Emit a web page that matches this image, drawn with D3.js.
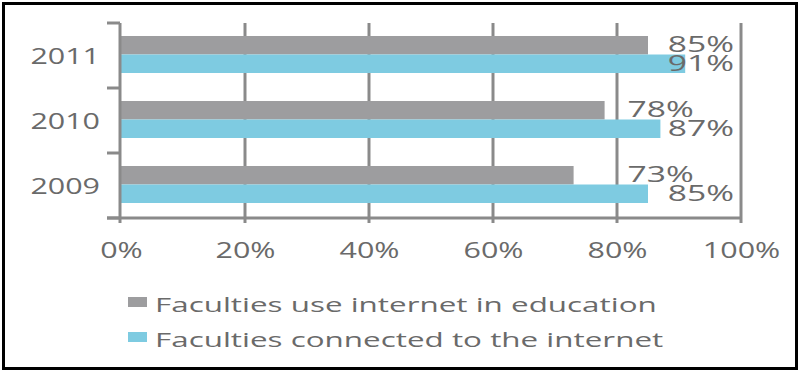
<!DOCTYPE html>
<html>
<head>
<meta charset="utf-8">
<script src="https://cdn.jsdelivr.net/npm/d3@7"></script>
<style>
  html, body { margin: 0; padding: 0; background: #fff; }
  svg { display: block; }
  text { font-family: "Open Sans", sans-serif; fill: #6a6a6a; }
</style>
</head>
<body>
<script>
// chart data
let years = ["2011", "2010", "2009"];
let seriesNames = ["Faculties use internet in education", "Faculties connected to the internet"];
let useInEducation = [0.85, 0.78, 0.73];
let connected = [0.91, 0.87, 0.85];
let xTicks = [0, 0.2, 0.4, 0.6, 0.8, 1.0];

let colors = ["#9d9d9f", "#7ecbe1"];
let stretch = 1.45;   // the original text looks horizontally widened

let width = 798, height = 371;
let margin = {top: 23, right: 57, bottom: 153, left: 121};

let svg = d3.select("body").append("svg")
    .attr("width", width)
    .attr("height", height);

svg.append("rect")
    .attr("x", 3.5).attr("y", 3.5)
    .attr("width", 793).attr("height", 365)
    .attr("fill", "#fff")
    .attr("stroke", "#000")
    .attr("stroke-width", 3);

let x = d3.scaleLinear([0, 1], [margin.left, width - margin.right]);
let y = d3.scaleBand(years, [margin.top, height - margin.bottom]);
let sub = d3.scaleBand([0, 1], [13, 50]);

let rows = years.map((yr, i) => ({year: yr, values: [useInEducation[i], connected[i]]}));

// vertical grid lines (behind the bars)
svg.append("g")
    .attr("stroke", "#8a8a8a")
    .attr("stroke-width", 3)
  .selectAll("line")
  .data(xTicks.slice(1))
  .join("line")
    .attr("x1", d => x(d)).attr("x2", d => x(d))
    .attr("y1", margin.top)
    .attr("y2", height - margin.bottom + 5);

// bars
let groups = svg.append("g")
  .selectAll("g")
  .data(rows)
  .join("g")
    .attr("transform", d => `translate(0,${y(d.year)})`);

groups.selectAll("rect")
  .data(d => d.values)
  .join("rect")
    .attr("x", x(0))
    .attr("y", (d, i) => sub(i))
    .attr("width", d => x(d) - x(0))
    .attr("height", sub.bandwidth())
    .attr("fill", (d, i) => colors[i]);

// value labels
groups.selectAll("text")
  .data(d => d.values)
  .join("text")
    .attr("transform", (d, i) => {
        let lx = x(i == 0 && d < 0.8 ? 0.817 : 0.882);
        let ly = sub(i) + sub.bandwidth() / 2 + 7;
        return `translate(${lx},${ly}) scale(1.6,1)`;
    })
    .style("font-size", "21px")
    .text(d => d3.format(".0%")(d));

// left axis
let yAxis = svg.append("g")
    .attr("stroke", "#8a8a8a")
    .attr("stroke-width", 3);
yAxis.append("line")
    .attr("x1", x(0) - 1).attr("x2", x(0) - 1)
    .attr("y1", margin.top)
    .attr("y2", height - margin.bottom + 5);
yAxis.selectAll(".tk")
  .data(years.map(d => y(d)).concat([y(years[years.length - 1]) + y.bandwidth()]))
  .join("line")
    .attr("class", "tk")
    .attr("x1", x(0) - 14).attr("x2", x(0) - 1)
    .attr("y1", d => d).attr("y2", d => d);

svg.append("g")
  .selectAll("text")
  .data(years)
  .join("text")
    .attr("text-anchor", "end")
    .attr("transform", d => `translate(100,${y(d) + y.bandwidth() / 2 + 8}) scale(${stretch},1)`)
    .style("font-size", "21px")
    .text(d => d);

// bottom axis
let xAxis = svg.append("g")
    .attr("transform", `translate(0,${height - margin.bottom})`)
    .call(d3.axisBottom(x).tickValues(xTicks).tickFormat(d3.format(".0%")).tickSize(0).tickPadding(40));
xAxis.select(".domain").remove();
xAxis.selectAll(".tick text")
    .attr("fill", null)
    .attr("dy", null)
    .attr("transform", `scale(${stretch},1)`)
    .style("font-size", "21px")
    .style("font-family", null);
xAxis.append("line")
    .attr("stroke", "#8a8a8a")
    .attr("stroke-width", 3)
    .attr("x1", x(0) - 14).attr("x2", x(1))
    .attr("y1", 0).attr("y2", 0);

// legend
let legend = svg.append("g")
  .selectAll("g")
  .data(seriesNames)
  .join("g")
    .attr("transform", (d, i) => `translate(128,${297 + i * 35})`);
legend.append("rect")
    .attr("width", 19).attr("height", 10)
    .attr("fill", (d, i) => colors[i]);
legend.append("text")
    .attr("transform", `translate(27,15) scale(1.57,1)`)
    .style("font-size", "20px")
    .text(d => d);
</script>
</body>
</html>
